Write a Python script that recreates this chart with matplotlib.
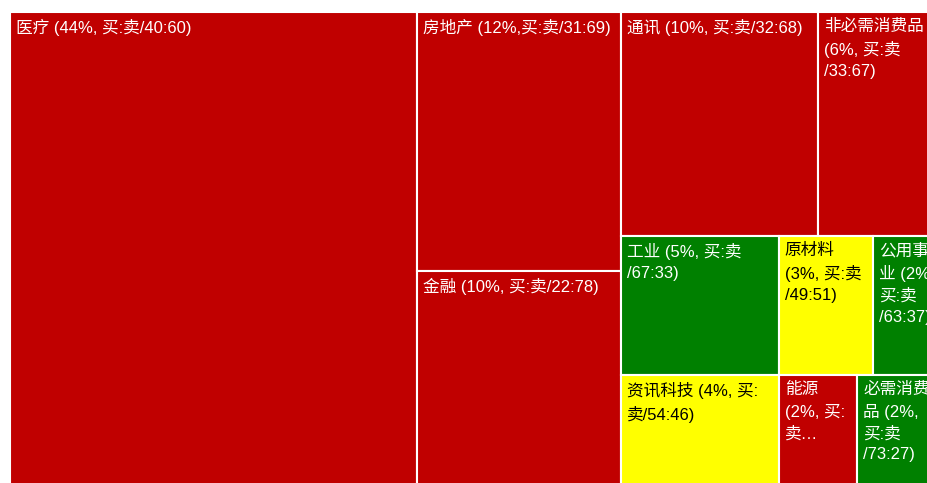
import matplotlib
matplotlib.use("Agg")
import matplotlib.pyplot as plt
from matplotlib.patches import Rectangle

plt.rcParams['font.family'] = ['Liberation Sans', 'Noto Sans CJK SC', 'DejaVu Sans']

# 行业权重 (%) 与 买:卖 中买方占比
names = ["医疗", "房地产", "金融", "通讯", "非必需消费品", "工业",
         "原材料", "公用事业", "资讯科技", "能源", "必需消费品"]
weights = [44, 12, 10, 10, 6, 5, 3, 2, 4, 2, 2]
buy_share = [40, 31, 22, 32, 33, 67, 49, 63, 54, 35, 73]
labels = [
    "医疗 (44%, 买:卖/40:60)",
    "房地产 (12%,买:卖/31:69)",
    "金融 (10%, 买:卖/22:78)",
    "通讯 (10%, 买:卖/32:68)",
    "非必需消费品\n(6%, 买:卖\n/33:67)",
    "工业 (5%, 买:卖\n/67:33)",
    "原材料\n(3%, 买:卖\n/49:51)",
    "公用事\n业 (2%,\n买:卖\n/63:37)",
    "资讯科技 (4%, 买:\n卖/54:46)",
    "能源\n(2%, 买:\n卖…",
    "必需消费\n品 (2%,\n买:卖\n/73:27)",
]
# 层级结构 (slice-and-dice)
tree = ["医疗", ["房地产", "金融"],
        [["通讯", "非必需消费品"], ["工业", "原材料", "公用事业"],
         ["资讯科技", "能源", "必需消费品"]]]

weight_of = dict(zip(names, weights))


def total(node):
    if isinstance(node, str):
        return weight_of[node]
    return sum(total(c) for c in node)


def layout(node, x, y, w, h, horiz, out):
    if isinstance(node, str):
        out.append((node, x, y, w, h))
        return
    t = total(node)
    for child in node:
        frac = total(child) / t
        if horiz:
            layout(child, x, y, w * frac, h, not horiz, out)
            x += w * frac
        else:
            layout(child, x, y, w, h * frac, not horiz, out)
            y += h * frac


def color_for(b):
    if b >= 60:
        return "#008000"
    if b >= 45:
        return "#FFFF00"
    return "#C00000"


fig = plt.figure(figsize=(9.27, 4.83), dpi=100)
ax = fig.add_axes([0, 0, 1, 1])
ax.set_xlim(0, 927)
ax.set_ylim(483, 0)
ax.axis('off')

rects = []
layout(tree, 10, 12, 926, 475, True, rects)

for name, x, y, w, h in rects:
    i = names.index(name)
    fc = color_for(buy_share[i])
    r = Rectangle((x, y), w, h, facecolor=fc, edgecolor='white', linewidth=1.5)
    ax.add_patch(r)
    tc = 'black' if fc == "#FFFF00" else 'white'
    t = ax.text(x + 6, y + 7, labels[i], color=tc, fontsize=12,
                va='top', ha='left', linespacing=1.5)
    t.set_clip_path(r)

fig.savefig("out.png", dpi=100)
